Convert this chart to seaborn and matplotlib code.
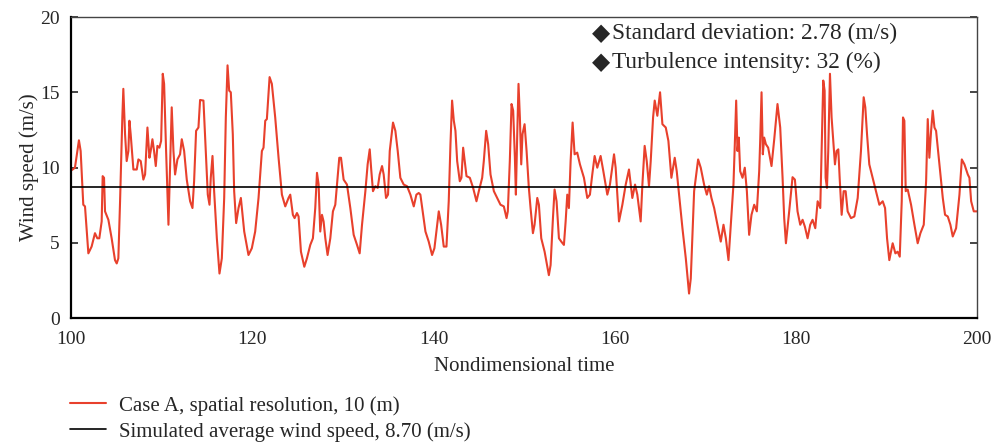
import numpy as np
import pandas as pd
import seaborn as sns
import matplotlib.pyplot as plt

# values
time = [100.0, 100.18, 100.44, 100.88, 101.07, 101.36, 101.55, 101.92, 102.28, 102.65, 102.91,
        103.13, 103.39, 103.50, 103.65, 103.76, 104.13, 104.49, 104.86, 105.05, 105.23, 105.42,
        105.67, 105.78, 105.97, 106.15, 106.34, 106.45, 106.59, 106.89, 107.26, 107.44, 107.70,
        107.99, 108.18, 108.44, 108.66, 108.80, 108.99, 109.17, 109.36, 109.54, 109.76, 109.95,
        110.13, 110.28, 110.50, 110.76, 110.94, 111.12, 111.31, 111.49, 111.75, 112.04, 112.23,
        112.49, 112.78, 113.15, 113.41, 113.59, 113.81, 114.07, 114.25, 114.62, 114.88, 115.10,
        115.29, 115.43, 115.62, 115.80, 116.10, 116.39, 116.65, 116.91, 117.09, 117.28, 117.46,
        117.64, 117.86, 118.01, 118.23, 118.49, 118.75, 119.12, 119.59, 119.96, 120.33, 120.70,
        121.07, 121.25, 121.44, 121.62, 121.92, 122.17, 122.54, 122.91, 123.28, 123.65, 124.01,
        124.20, 124.49, 124.68, 124.94, 125.12, 125.38, 125.75, 126.04, 126.41, 126.70, 126.96,
        127.15, 127.33, 127.51, 127.70, 127.88, 128.07, 128.32, 128.62, 128.91, 129.17, 129.36,
        129.61, 129.80, 130.09, 130.46, 130.83, 131.20, 131.57, 131.86, 132.12, 132.49, 132.74,
        132.97, 133.15, 133.33, 133.59, 133.85, 134.07, 134.33, 134.51, 134.77, 134.99, 135.18,
        135.54, 135.80, 136.06, 136.35, 136.72, 137.09, 137.46, 137.83, 138.12, 138.38, 138.56,
        139.12, 139.48, 139.85, 140.11, 140.41, 140.59, 140.85, 141.14, 141.44, 141.69, 141.88,
        142.06, 142.25, 142.43, 142.62, 142.91, 143.09, 143.28, 143.46, 143.65, 144.02, 144.38,
        144.75, 145.01, 145.38, 145.56, 145.82, 146.04, 146.30, 146.67, 147.04, 147.40, 147.77,
        148.07, 148.21, 148.43, 148.62, 148.80, 148.99, 149.10, 149.25, 149.39, 149.54, 149.69,
        149.83, 150.06, 150.28, 150.53, 150.72, 150.98, 151.16, 151.46, 151.64, 151.90, 152.27,
        152.74, 152.93, 153.19, 153.37, 153.59, 153.85, 154.11, 154.40, 154.59, 154.77, 154.95,
        155.14, 155.36, 155.58, 155.87, 156.17, 156.61, 156.98, 157.27, 157.53, 157.79, 158.08,
        158.45, 158.75, 159.19, 159.48, 159.93, 160.11, 160.48, 160.85, 161.22, 161.58, 161.95,
        162.25, 162.50, 162.87, 163.06, 163.31, 163.54, 163.79, 163.98, 164.24, 164.42, 164.71,
        165.01, 165.27, 165.64, 165.93, 166.26, 166.63, 166.85, 167.11, 167.48, 167.85, 168.21,
        168.40, 168.77, 169.21, 169.50, 169.87, 170.17, 170.42, 170.68, 170.98, 171.34, 171.71,
        172.01, 172.27, 172.56, 172.82, 173.11, 173.26, 173.41, 173.55, 173.70, 173.85, 174.11,
        174.36, 174.59, 174.84, 175.10, 175.40, 175.69, 175.95, 176.06, 176.21, 176.35, 176.50,
        176.69, 176.94, 177.31, 177.61, 177.97, 178.27, 178.53, 178.71, 178.90, 179.26, 179.63,
        179.89, 180.18, 180.48, 180.74, 180.99, 181.29, 181.58, 181.84, 182.14, 182.40, 182.69,
        182.84, 183.02, 183.17, 183.28, 183.43, 183.57, 183.76, 183.94, 184.13, 184.31, 184.49,
        184.68, 184.83, 185.05, 185.27, 185.49, 185.71, 186.08, 186.45, 186.82, 187.18, 187.48,
        187.66, 187.85, 188.10, 188.47, 188.84, 189.21, 189.58, 189.84, 190.06, 190.31, 190.68,
        190.98, 191.23, 191.46, 191.68, 191.82, 191.97, 192.12, 192.34, 192.71, 193.08, 193.44,
        193.74, 194.11, 194.37, 194.55, 194.73, 194.92, 195.10, 195.29, 195.47, 195.84, 196.21,
        196.46, 196.76, 197.05, 197.31, 197.68, 198.05, 198.31, 198.60, 198.97, 199.15, 199.34,
        199.63, 200.0]

speed = [9.80, 9.87, 9.99, 11.81, 11.10, 7.53, 7.42, 4.30, 4.75, 5.64, 5.30,
         5.30, 6.42, 9.43, 9.32, 7.09, 6.53, 5.30, 3.85, 3.63, 3.97, 7.76,
         13.33, 15.23, 12.22, 10.43, 11.10, 13.11, 12.22, 9.87, 9.87, 10.54, 10.43,
         9.20, 9.54, 12.66, 10.65, 11.10, 11.88, 11.10, 10.10, 11.44, 11.32, 11.77,
         16.23, 15.56, 11.10, 6.20, 9.99, 14.00, 11.10, 9.54, 10.54, 10.88, 11.88,
         11.10, 9.20, 7.76, 7.31, 9.09, 12.44, 12.66, 14.49, 14.45, 11.10, 8.20,
         7.53, 9.32, 10.77, 8.43, 5.30, 2.96, 3.97, 7.98, 13.33, 16.79, 15.11,
         15.00, 12.22, 8.43, 6.31, 7.31, 7.98, 5.75, 4.19, 4.64, 5.75, 7.98,
         11.10, 11.32, 13.11, 13.22, 16.01, 15.56, 13.33, 10.65, 8.20, 7.42, 7.98,
         8.20, 6.86, 6.64, 6.98, 6.75, 4.41, 3.41, 3.97, 4.86, 5.30, 7.31,
         9.65, 8.87, 5.75, 6.86, 6.42, 5.30, 4.19, 5.30, 7.09, 7.53, 8.87,
         10.65, 10.65, 9.20, 8.87, 7.31, 5.53, 4.86, 4.30, 6.20, 8.43, 10.21,
         11.21, 9.76, 8.43, 8.76, 8.65, 9.54, 10.10, 9.54, 7.98, 8.20, 11.10,
         12.99, 12.44, 11.10, 9.32, 8.87, 8.76, 8.20, 7.42, 8.20, 8.31, 8.20,
         5.75, 5.08, 4.19, 4.64, 6.20, 7.09, 6.20, 4.75, 4.75, 7.76, 11.55,
         14.45, 13.11, 12.44, 10.43, 9.09, 9.32, 11.32, 10.43, 9.43, 9.32, 8.65,
         7.76, 8.43, 9.32, 10.43, 12.44, 11.55, 9.54, 8.43, 7.98, 7.53, 7.42,
         6.64, 7.09, 10.43, 14.22, 13.78, 10.65, 8.20, 12.22, 15.56, 13.33, 10.21,
         12.22, 12.88, 11.10, 8.65, 7.31, 5.64, 6.20, 7.98, 7.53, 5.30, 4.41,
         2.85, 3.52, 6.64, 8.54, 7.76, 5.30, 5.08, 4.86, 6.42, 8.20, 7.31,
         10.43, 12.99, 10.88, 10.99, 10.21, 9.32, 7.98, 8.20, 9.54, 10.77, 9.99,
         10.77, 9.76, 8.20, 8.87, 10.88, 9.99, 6.42, 7.53, 8.87, 9.87, 7.98,
         8.87, 8.20, 6.42, 8.87, 11.44, 10.43, 8.76, 10.43, 13.33, 14.45, 13.44,
         15.00, 12.88, 12.66, 11.77, 9.32, 10.65, 9.76, 8.20, 5.97, 3.97, 1.63,
         2.63, 8.43, 10.54, 9.99, 8.87, 8.20, 8.76, 7.98, 7.31, 6.20, 5.08,
         6.20, 5.30, 3.85, 6.20, 8.87, 11.55, 14.45, 11.10, 11.99, 9.76, 9.32,
         9.99, 8.43, 5.53, 6.86, 7.53, 7.09, 9.76, 11.77, 15.00, 10.88, 11.99,
         11.55, 11.32, 10.10, 11.88, 14.22, 12.66, 9.32, 6.64, 4.97, 7.09, 9.36,
         9.20, 7.09, 6.20, 6.53, 6.08, 5.30, 6.20, 6.53, 5.97, 7.76, 7.31,
         11.10, 15.78, 15.11, 9.32, 8.65, 11.10, 16.23, 13.33, 11.77, 10.21, 11.10,
         11.21, 9.32, 6.86, 8.43, 8.43, 7.09, 6.64, 6.75, 7.98, 11.10, 14.67,
         14.00, 12.22, 10.21, 9.32, 8.43, 7.53, 7.76, 7.31, 5.30, 3.85, 4.97,
         4.30, 4.41, 4.08, 7.76, 13.33, 13.11, 8.43, 8.54, 7.53, 6.20, 4.97,
         5.64, 6.20, 9.09, 13.22, 10.65, 12.44, 13.78, 12.66, 12.44, 10.21, 7.98,
         6.86, 6.75, 6.20, 5.42, 5.97, 8.20, 10.54, 10.21, 9.54, 9.32, 7.76,
         7.09, 7.09]

avg_speed = 8.70
series_label = "Case A, spatial resolution, 10 (m)"
avg_label = "Simulated average wind speed, 8.70 (m/s)"
notes = ["Standard deviation: 2.78 (m/s)", "Turbulence intensity: 32 (%)"]

df = pd.DataFrame({"time": time, "speed": speed})

sns.set_style("white")
plt.rcParams["font.family"] = ["Liberation Serif", "DejaVu Sans"]

fig = plt.figure(figsize=(9.91, 4.48), dpi=100)
ax = fig.add_axes([0.0716, 0.29, 0.9144, 0.672])

sns.lineplot(data=df, x="time", y="speed", color="#e8402c", linewidth=1.5,
             estimator=None, sort=False, ax=ax, label=series_label)
ax.axhline(avg_speed, color="black", linewidth=1.2, label=avg_label)

ax.set_xlim(100, 200)
ax.set_ylim(0, 20)
ax.set_xticks([100, 120, 140, 160, 180, 200])
ax.set_yticks([0, 5, 10, 15, 20])
ax.tick_params(axis="x", length=0, labelsize=14, pad=9)
ax.tick_params(axis="y", direction="in", length=5, width=1.2, labelsize=14,
               right=True, left=True, pad=8)
ax.set_xlabel("Nondimensional time", fontsize=15, labelpad=7)
ax.set_ylabel("Wind speed (m/s)", fontsize=15, labelpad=1)

for side in ["left", "bottom"]:
    ax.spines[side].set_linewidth(1.6)
    ax.spines[side].set_color("black")
for side in ["top", "right"]:
    ax.spines[side].set_linewidth(1.0)
    ax.spines[side].set_color("#444444")

for i, note in enumerate(notes):
    y = 0.947 - i * 0.097
    ax.text(0.585, y, "\u25c6", transform=ax.transAxes, fontsize=17,
            va="center", ha="center", family=["DejaVu Sans"])
    ax.text(0.597, y, note, transform=ax.transAxes, fontsize=16.8,
            va="center", ha="left")

handles, labels = ax.get_legend_handles_labels()
ax.get_legend().remove()
fig.legend(handles, labels, loc="upper left", bbox_to_anchor=(0.062, 0.135),
           frameon=False, fontsize=15, handlelength=1.75, handletextpad=0.6,
           labelspacing=0.3, borderaxespad=0)

fig.savefig("out.png", dpi=100)
